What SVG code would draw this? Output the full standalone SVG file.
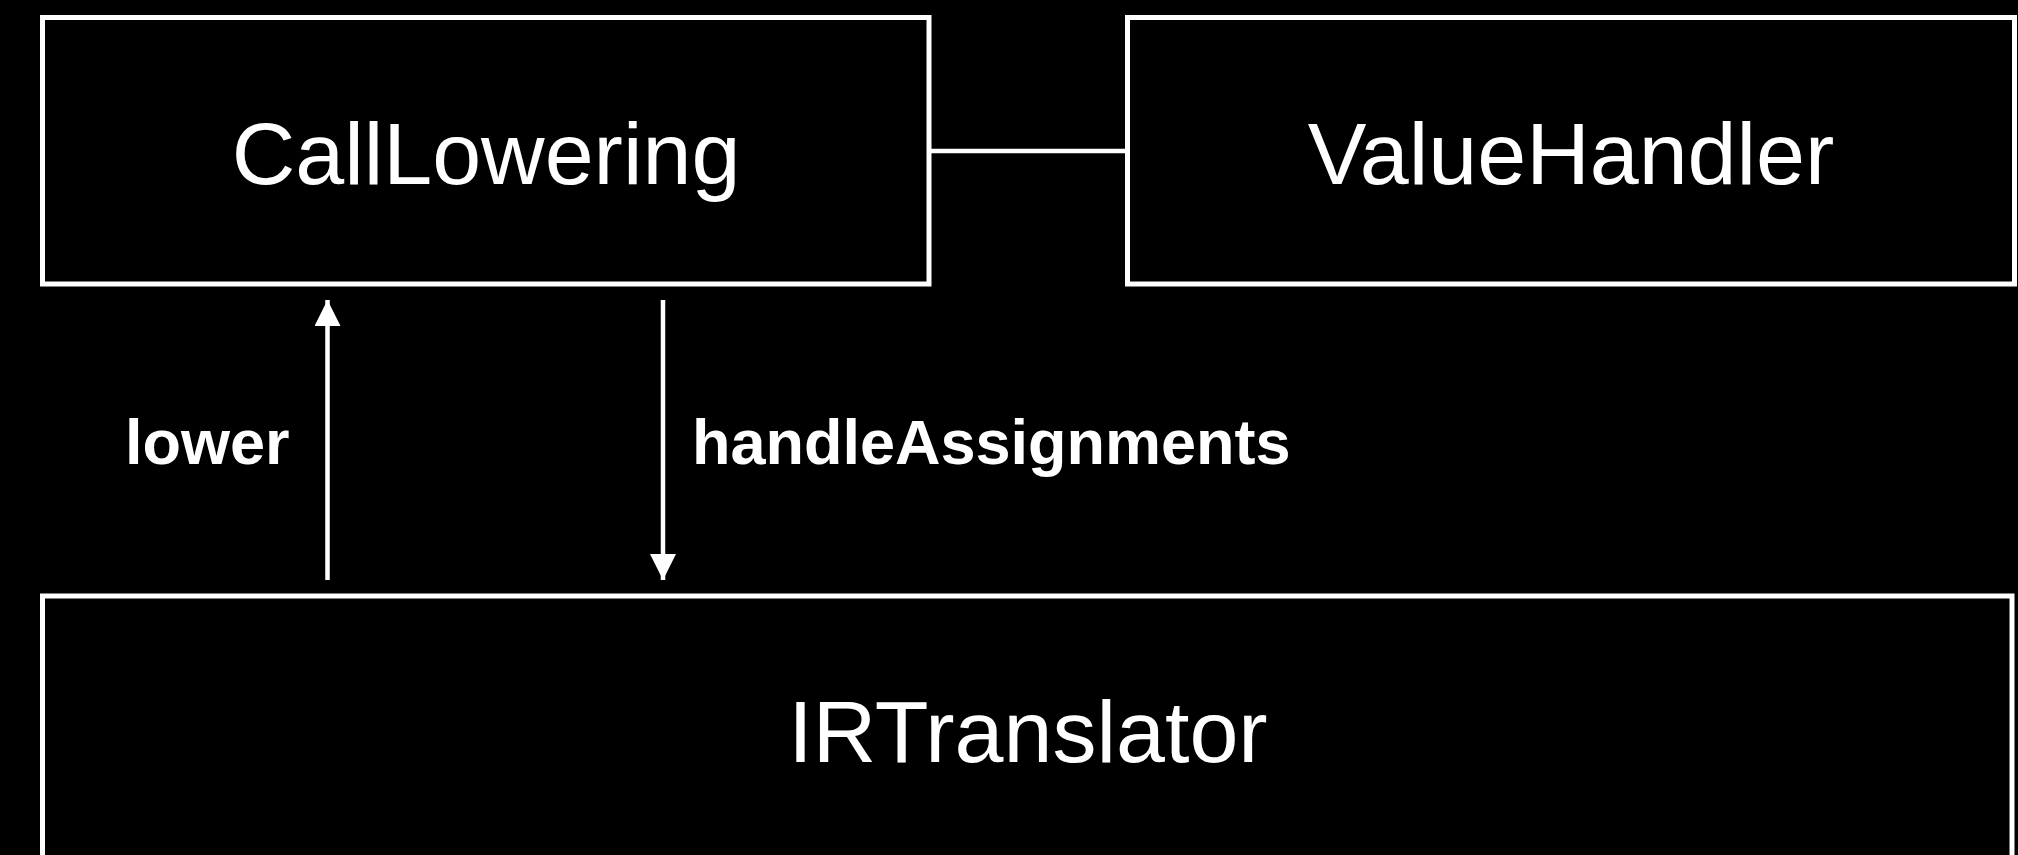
<svg xmlns="http://www.w3.org/2000/svg" width="2018" height="855" viewBox="0 0 2018 855">
<defs>
<style>
.box{fill:#000;stroke:#fff;stroke-width:5}
.line{stroke:#fff;stroke-width:4.5;fill:none}
.title{font-family:"Liberation Sans",Arial,Helvetica,sans-serif;font-size:88px;fill:#fff;text-anchor:middle}
.label{font-family:"Liberation Sans",Arial,Helvetica,sans-serif;font-size:63px;font-weight:bold;fill:#fff}
</style>
<marker id="ah" viewBox="0 0 26 26" refX="26" refY="13" markerWidth="26" markerHeight="26" markerUnits="userSpaceOnUse" orient="auto">
<path d="M0,0 L26,13 L0,26 Z" fill="#fff"/>
</marker>
</defs>
<rect width="2018" height="855" fill="#000"/>
<g id="connectors">
<line class="line" x1="931" y1="151" x2="1126" y2="151"/>
<line class="line" x1="327.5" y1="580" x2="327.5" y2="300" marker-end="url(#ah)"/>
<line class="line" x1="663" y1="300" x2="663" y2="580" marker-end="url(#ah)"/>
<text class="label" x="125" y="464">lower</text>
<text class="label" x="692" y="464">handleAssignments</text>
</g>
<g id="CallLowering">
<rect class="box" x="42.5" y="17.5" width="886.5" height="266.5"/>
<text class="title" x="486" y="184">CallLowering</text>
</g>
<g id="ValueHandler">
<rect class="box" x="1127.5" y="17.5" width="887" height="266.5"/>
<text class="title" x="1571" y="184">ValueHandler</text>
</g>
<g id="IRTranslator">
<rect class="box" x="42.5" y="596" width="1969.5" height="300"/>
<text class="title" x="1028" y="762">IRTranslator</text>
</g>
</svg>
